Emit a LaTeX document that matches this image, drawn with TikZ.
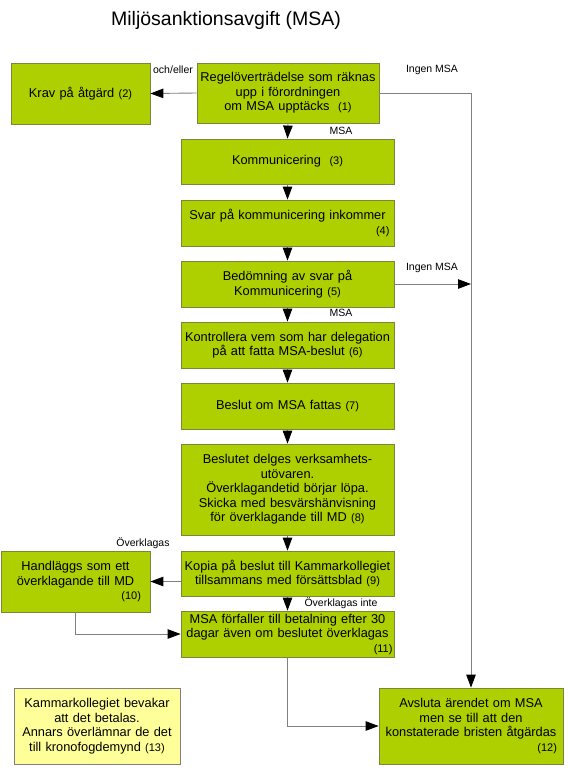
\documentclass[tikz,border=0pt]{standalone}
\usepackage{fontspec}
\setmainfont{Liberation Sans}
\usetikzlibrary{arrows.meta}
\definecolor{boxgreen}{RGB}{174,207,0}
\definecolor{boxedge}{RGB}{120,135,60}
\definecolor{noteyellow}{RGB}{255,255,153}
\definecolor{linegray}{RGB}{128,128,128}
\newcommand\numtxt[1]{{\fontsize{11}{13}\selectfont #1}}
\newcommand\rnum[1]{\\\mbox{}\hskip 0pt plus 1fill\numtxt{#1}}
\begin{document}
\begin{tikzpicture}[x=1pt,y=-1pt,
  flowbox/.style={draw=boxedge, line width=0.8pt, fill=boxgreen, align=center, inner sep=0pt, font=\fontsize{12.8}{14.5}\selectfont},
  mainbox/.style={flowbox, minimum width=213pt, text width=208pt},
  notebox/.style={flowbox, fill=noteyellow, draw=linegray},
  lbl/.style={font=\fontsize{10.5}{12}\selectfont, inner sep=1pt},
  conn/.style={draw=linegray, line width=0.9pt, -{Triangle[length=13pt,width=9.5pt,color=black]}}]
\useasboundingbox (0,0) rectangle (568,772);

\node[font=\fontsize{19.5}{22}\selectfont, anchor=base] (title) at (226,25) {Miljösanktionsavgift (MSA)};

\node[flowbox, minimum width=182pt, minimum height=60pt, text width=176pt] (b1) at (288,93) {Regelöverträdelse som räknas\\ upp i förordningen\\ om MSA upptäcks\ \ \numtxt{(1)}};
\node[flowbox, minimum width=139pt, minimum height=61pt, text width=130pt] (b2) at (80.5,93.5) {Krav på åtgärd \numtxt{(2)}};
\node[mainbox, minimum height=45pt] (b3) at (287.5,161.5) {Kommunicering\ \ \numtxt{(3)}};
\node[mainbox, minimum height=46pt, text width=204pt] (b4) at (287.5,223) {Svar på kommunicering inkommer\rnum{(4)}};
\node[mainbox, minimum height=46pt] (b5) at (287.5,284) {Bedömning av svar på\\ Kommunicering \numtxt{(5)}};
\node[mainbox, minimum height=46pt] (b6) at (287.5,345) {Kontrollera vem som har delegation\\ på att fatta MSA-beslut \numtxt{(6)}};
\node[mainbox, minimum height=46pt] (b7) at (287.5,406) {Beslut om MSA fattas \numtxt{(7)}};
\node[mainbox, minimum height=91pt] (b8) at (287.5,489.5) {Beslutet delges verksamhets-\\ utövaren.\\ Överklagandetid börjar löpa.\\ Skicka med besvärshänvisning\\ för överklagande till MD \numtxt{(8)}};
\node[mainbox, minimum height=45pt] (b9) at (287.5,573.5) {Kopia på beslut till Kammarkollegiet\\ tillsammans med försättsblad \numtxt{(9)}};
\node[flowbox, minimum width=149pt, minimum height=61pt, text width=131pt] (b10) at (75.5,581.5) {Handläggs som ett\\ överklagande till MD\rnum{(10)}};
\node[mainbox, minimum height=46pt, text width=210pt] (b11) at (287.5,634) {MSA förfaller till betalning efter 30\\ dagar även om beslutet överklagas\rnum{(11)}};
\node[flowbox, minimum width=184pt, minimum height=76pt, text width=172pt] (b12) at (471,726) {Avsluta ärendet om MSA\\ men se till att den\\ konstaterade bristen åtgärdas\rnum{(12)}};
\node[notebox, minimum width=166pt, minimum height=76pt, text width=160pt] (b13) at (97,726) {Kammarkollegiet bevakar\\ att det betalas.\\ Annars överlämnar de det\\ till kronofogdemynd \numtxt{(13)}};

% connectors
\draw[conn] (b1.west) -- (b2.east);
\draw[conn] (b1.south) -- (b3.north);
\draw[conn] (b3.south) -- (b4.north);
\draw[conn] (b4.south) -- (b5.north);
\draw[conn] (b5.south) -- (b6.north);
\draw[conn] (b6.south) -- (b7.north);
\draw[conn] (b7.south) -- (b8.north);
\draw[conn] (b8.south) -- (b9.north);
\draw[conn] (b9.south) -- (b11.north);
\coordinate (j1) at (b1.east -| b12.north);
\draw[conn] (b1.east) -- (j1) -- (b12.north);
\coordinate (j5) at (b5.east -| b12.north);
\draw[conn] (b5.east) -- (j5);
\coordinate (k9) at (b10.east -| b9.west);
\draw[conn] (k9) -- (b10.east);
\draw[conn] (b10.south) |- (b11.west);
\draw[conn] (b11.south) |- (b12.west);

% labels
\node[lbl, fill=white] (l1) at (173,70) {och/eller};
\node[lbl] (l2) at (432,70) {Ingen MSA};
\node[lbl] (l3) at (341,131) {MSA};
\node[lbl] (l4) at (432,268) {Ingen MSA};
\node[lbl] (l5) at (341,313) {MSA};
\node[lbl] (l6) at (143,543) {Överklagas};
\node[lbl] (l7) at (341,603) {Överklagas inte};
\end{tikzpicture}
\end{document}
